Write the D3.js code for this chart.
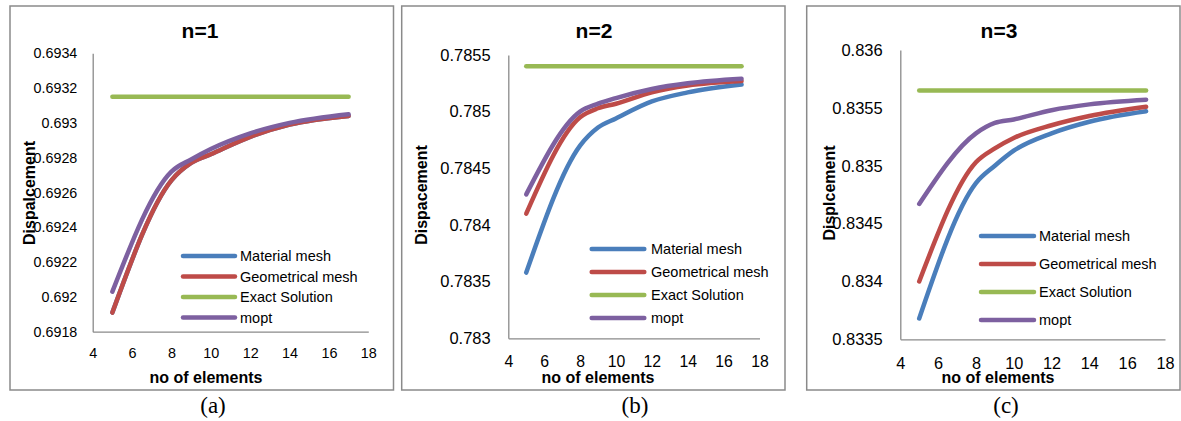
<!DOCTYPE html>
<html>
<head>
<meta charset="utf-8">
<script src="https://cdn.jsdelivr.net/npm/d3@7"></script>
<style>
  html, body { margin: 0; padding: 0; background: #fff; }
  svg { display: block; }
  text { font-family: "Liberation Sans", Arial, sans-serif; fill: #000; }
</style>
</head>
<body>
<svg id="chart" width="1181" height="421"></svg>
<script>
// ---------- DATA ----------
const xElements = [5, 8, 9, 10, 12, 14, 17];
const seriesNames = ["Material mesh", "Geometrical mesh", "Exact Solution", "mopt"];
const xTicks = [4, 6, 8, 10, 12, 14, 16, 18];

// n = 1
const n1Material    = [0.69191, 0.69267, 0.69277, 0.69282, 0.69292, 0.69299, 0.69304];
const n1Geometrical = [0.69191, 0.69267, 0.69277, 0.69282, 0.69292, 0.69299, 0.69304];
const n1Exact       = [0.69315, 0.69315, 0.69315, 0.69315, 0.69315, 0.69315, 0.69315];
const n1Mopt        = [0.69203, 0.69272, 0.69279, 0.69285, 0.69294, 0.69300, 0.69305];
const n1YTicks = [0.6918, 0.692, 0.6922, 0.6924, 0.6926, 0.6928, 0.693, 0.6932, 0.6934];
const n1YTickLabels = ["0.6918", "0.692", "0.6922", "0.6924", "0.6926", "0.6928", "0.693", "0.6932", "0.6934"];

// n = 2
const n2Material    = [0.78358, 0.78470, 0.78486, 0.78494, 0.78509, 0.78517, 0.78524];
const n2Geometrical = [0.78410, 0.78495, 0.78503, 0.78507, 0.78517, 0.78523, 0.78527];
const n2Exact       = [0.78540, 0.78540, 0.78540, 0.78540, 0.78540, 0.78540, 0.78540];
const n2Mopt        = [0.78427, 0.78500, 0.78507, 0.78512, 0.78520, 0.78525, 0.78529];
const n2YTicks = [0.783, 0.7835, 0.784, 0.7845, 0.785, 0.7855];
const n2YTickLabels = ["0.783", "0.7835", "0.784", "0.7845", "0.785", "0.7855"];

// n = 3
const n3Material    = [0.83368, 0.83485, 0.83500, 0.83513, 0.83528, 0.83538, 0.83547];
const n3Geometrical = [0.83400, 0.83503, 0.83515, 0.83524, 0.83535, 0.83543, 0.83551];
const n3Exact       = [0.83565, 0.83565, 0.83565, 0.83565, 0.83565, 0.83565, 0.83565];
const n3Mopt        = [0.83467, 0.83528, 0.83537, 0.83540, 0.83548, 0.83553, 0.83557];
const n3YTicks = [0.8335, 0.834, 0.8345, 0.835, 0.8355, 0.836];
const n3YTickLabels = ["0.8335", "0.834", "0.8345", "0.835", "0.8355", "0.836"];

const titles = ["n=1", "n=2", "n=3"];
const yTitles = ["Dispalcement", "Dispacement", "Displcement"];
const xTitle = "no of elements";
const captions = ["(a)", "(b)", "(c)"];

// ---------- LAYOUT / STYLE ----------
const colors = ["#4a7ebb", "#be4b48", "#98b954", "#7d60a0"];
const panels = [
  { data: [n1Material, n1Geometrical, n1Exact, n1Mopt], yTicks: n1YTicks, yLabels: n1YTickLabels,
    box: [10, 6, 393.5, 390], x0: 92.7, x1: 368.3, yTop: 53.3, yBot: 331.7,
    yFont: 14.3, xFont: 14.4, yPad: 15.4,
    titleXY: [200, 30], yTitleXY: [29, 193], xTitleY: 377, xTitleX: 206, xTickY: 353, capX: 213,
    legX: [183, 235, 240], legY: [256, 276.5, 297, 317.5] },
  { data: [n2Material, n2Geometrical, n2Exact, n2Mopt], yTicks: n2YTicks, yLabels: n2YTickLabels,
    box: [401.7, 6, 785, 390], x0: 508.3, x1: 759.5, yTop: 55, yBot: 338.3,
    yFont: 16.5, xFont: 15.8, yPad: 17.6,
    titleXY: [594, 30], yTitleXY: [421, 195], xTitleY: 377, xTitleX: 598, xTickY: 362, capX: 635,
    legX: [591.7, 644.3, 651], legY: [249, 272, 295, 318] },
  { data: [n3Material, n3Geometrical, n3Exact, n3Mopt], yTicks: n3YTicks, yLabels: n3YTickLabels,
    box: [806.7, 6, 1180, 390], x0: 900.3, x1: 1165, yTop: 50, yBot: 339.3,
    yFont: 16.5, xFont: 16.3, yPad: 17.6,
    titleXY: [999, 30], yTitleXY: [829, 193], xTitleY: 377, xTitleX: 998, xTickY: 363, capX: 1006,
    legX: [981, 1034, 1039], legY: [236, 264, 292, 320] }
];

const svg = d3.select("#chart");

panels.forEach((p, i) => {
  const g = svg.append("g");
  // panel border
  g.append("rect")
    .attr("x", p.box[0]).attr("y", p.box[1])
    .attr("width", p.box[2] - p.box[0]).attr("height", p.box[3] - p.box[1])
    .attr("fill", "none").attr("stroke", "#8a8a8a").attr("stroke-width", 1.5);

  const x = d3.scaleLinear().domain([4, 18]).range([p.x0, p.x1]);
  const yDom = d3.extent(p.yTicks);
  const y = d3.scaleLinear().domain(yDom).range([p.yBot, p.yTop]);

  // axes
  const xAxis = d3.axisBottom(x).tickValues(xTicks).tickSize(0).tickPadding(0).tickFormat(d3.format("d"));
  const xg = g.append("g").attr("transform", `translate(0,${p.yBot})`).call(xAxis);
  xg.attr("font-size", null).attr("font-family", null);
  xg.select(".domain").attr("stroke", "#8a8a8a").attr("stroke-width", 1.3);
  xg.selectAll("text").style("font-size", p.xFont + "px")
    .attr("fill", "#000").attr("dy", null).attr("y", p.xTickY - p.yBot).attr("dominant-baseline", "central");

  const yAxis = d3.axisLeft(y).tickValues(p.yTicks).tickSize(0).tickPadding(p.yPad)
    .tickFormat((d, k) => p.yLabels[k]);
  const yg = g.append("g").attr("transform", `translate(${p.x0},0)`).call(yAxis);
  yg.attr("font-size", null).attr("font-family", null);
  yg.select(".domain").attr("stroke", "#8a8a8a").attr("stroke-width", 1.3);
  yg.selectAll("text").style("font-size", p.yFont + "px").attr("fill", "#000");

  // series
  const line = d3.line().x((d, k) => x(xElements[k])).y(d => y(d)).curve(d3.curveMonotoneX);
  p.data.forEach((s, k) => {
    g.append("path").datum(s)
      .attr("d", line)
      .attr("fill", "none").attr("stroke", colors[k]).attr("stroke-width", 4.5)
      .attr("stroke-linecap", "round").attr("stroke-linejoin", "round");
  });

  // legend
  seriesNames.forEach((name, k) => {
    const ly = p.legY[k];
    g.append("line").attr("x1", p.legX[0]).attr("x2", p.legX[1]).attr("y1", ly).attr("y2", ly)
      .attr("stroke", colors[k]).attr("stroke-width", 4.5).attr("stroke-linecap", "round");
    g.append("text").attr("x", p.legX[2]).attr("y", ly).attr("dominant-baseline", "central")
      .style("font-size", "14.5px").text(name);
  });

  // titles
  g.append("text").attr("x", p.titleXY[0]).attr("y", p.titleXY[1]).attr("text-anchor", "middle")
    .attr("dominant-baseline", "central").style("font-size", "21px").attr("font-weight", "bold").text(titles[i]);
  g.append("text").attr("x", p.xTitleX).attr("y", p.xTitleY).attr("text-anchor", "middle")
    .attr("dominant-baseline", "central").style("font-size", "16px").attr("font-weight", "bold").text(xTitle);
  g.append("text").attr("transform", `translate(${p.yTitleXY[0]},${p.yTitleXY[1]}) rotate(-90)`)
    .attr("text-anchor", "middle").attr("dominant-baseline", "central")
    .style("font-size", "16px").attr("font-weight", "bold").text(yTitles[i]);
  svg.append("text").attr("x", p.capX).attr("y", 405).attr("text-anchor", "middle")
    .attr("dominant-baseline", "central").style("font-size", "23px")
    .style("font-family", "Liberation Serif, Times New Roman, serif").text(captions[i]);
});
</script>
</body>
</html>
